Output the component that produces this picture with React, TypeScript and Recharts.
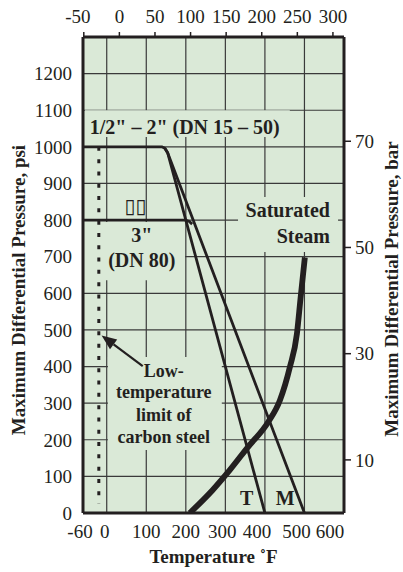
import {
  ComposedChart,
  Line,
  XAxis,
  YAxis,
  CartesianGrid,
  ReferenceLine,
  ReferenceDot,
  ReferenceArea,
  Label,
} from 'recharts';

// temperature in °F, pressure in psi
const fTicks = [-60, 0, 100, 200, 300, 400, 500, 600];
const cTicks = [-50, 0, 50, 100, 150, 200, 250, 300];
const psiTicks = [0, 100, 200, 300, 400, 500, 600, 700, 800, 900, 1000, 1100, 1200];
const barTicks = [10, 30, 50, 70];

const smallValveT = [
  { f: -60, psi: 1000 },
  { f: 139, psi: 1000 },
  { f: 147, psi: 996 },
  { f: 154, psi: 984 },
  { f: 400, psi: 0 },
];
const smallValveM = [
  { f: 147, psi: 996 },
  { f: 154, psi: 984 },
  { f: 500, psi: 0 },
];
const threeInch = [
  { f: -60, psi: 800 },
  { f: 199, psi: 800 },
  { f: 209, psi: 796 },
  { f: 216, psi: 789 },
];
const saturatedSteam = [
  { f: 210, psi: 0 },
  { f: 268, psi: 63 },
  { f: 311, psi: 117 },
  { f: 357, psi: 180 },
  { f: 408, psi: 248 },
  { f: 438, psi: 308 },
  { f: 463, psi: 398 },
  { f: 481, psi: 490 },
  { f: 490, psi: 585 },
  { f: 501, psi: 698 },
];
const lowTempLimit = [
  { f: -20, psi: 1000 },
  { f: -20, psi: 25 },
];
const arrowFrom = { f: 91, psi: 401 };
const arrowTo = { f: -13, psi: 485 };

const PSI_PER_BAR = 14.5038;
const INK = '#231f20';
const BG = '#dae9d7';
const SERIF = '"Liberation Serif", "Times New Roman", serif';

// small nudges so tick text sits like the printed original
const bottomNudge: Record<number, number> = { [-60]: -3, 0: -2, 300: -3, 400: -8, 500: -8, 600: -14 };
const topNudge: Record<number, number> = { [-50]: -6 };

// plain backgrounds behind the printed notes (°F, psi)
const noteBacks = [
  { x1: -55, x2: 463, y1: 1027, y2: 1100 },
  { x1: -60, x2: 198, y1: 636, y2: 795 },
  { x1: 332, x2: 585, y1: 713, y2: 863 },
  { x1: 3, x2: 291, y1: 172, y2: 426 },
];

type Note = {
  f: number;
  psi: number;
  lines: string[];
  dy: number[];
  anchor: 'start' | 'middle' | 'end';
  size: number;
  weight?: number;
  sans?: boolean;
};

const notes: Note[] = [
  { f: -43, psi: 1036, lines: ['1/2" – 2" (DN 15 – 50)'], dy: [0], anchor: 'start', size: 20 },
  { f: 73, psi: 818, lines: ['▯▯'], dy: [0], anchor: 'middle', size: 20, weight: 400, sans: true },
  { f: 88.6, psi: 717, lines: ['3"', '(DN 80)'], dy: [-8, 17], anchor: 'middle', size: 20 },
  { f: 564.6, psi: 772, lines: ['Saturated', 'Steam'], dy: [-13, 13], anchor: 'end', size: 20 },
  {
    f: 144.3, psi: 281, lines: ['Low-', 'temperature', 'limit of', 'carbon steel'],
    dy: [-33, -12, 11, 33], anchor: 'middle', size: 18,
  },
  { f: 354, psi: 22, lines: ['T'], dy: [0], anchor: 'middle', size: 20 },
  { f: 451, psi: 22, lines: ['M'], dy: [0], anchor: 'middle', size: 20 },
];

const noteShape = (n: Note) => (p: any) => (
  <g>
    {n.lines.map((t, i) => (
      <text
        key={i}
        x={p.cx}
        y={p.cy + n.dy[i]}
        textAnchor={n.anchor}
        fontWeight={n.weight ?? 700}
        fontSize={n.size}
        fill={INK}
        style={n.sans ? { fontFamily: '"DejaVu Sans", sans-serif' } : undefined}
      >
        {t}
      </text>
    ))}
  </g>
);

const arrowShape = (p: any) => {
  const { x1, y1, x2, y2 } = p;
  const a = Math.atan2(y2 - y1, x2 - x1);
  const len = 15;
  const w = 6;
  const bx = x2 - len * Math.cos(a);
  const by = y2 - len * Math.sin(a);
  const pts = [
    [x2, y2],
    [bx + w * Math.sin(a), by - w * Math.cos(a)],
    [bx - w * Math.sin(a), by + w * Math.cos(a)],
  ]
    .map((q) => q.join(','))
    .join(' ');
  return (
    <g>
      <line x1={x1} y1={y1} x2={bx} y2={by} stroke={INK} strokeWidth={2.2} />
      <polygon points={pts} fill={INK} />
    </g>
  );
};

const makeTick = (nudge: Record<number, number>, fmt: (v: number) => string, dyText: number) =>
  (p: any) => (
    <text
      x={p.x + (nudge[Number(fmt(p.payload.value))] ?? 0)}
      y={p.y + dyText}
      textAnchor="middle"
      fontSize={19}
      fill={INK}
    >
      {fmt(p.payload.value)}
    </text>
  );

const toC = (v: number) => String(Math.round(((v - 32) * 5) / 9));
const asIs = (v: number) => String(v);

const tickStyle = { fontSize: 19, fill: INK };

function TitleV({ x, y, text }: { x: number; y: number; text: string }) {
  return (
    <text
      x={x}
      y={y}
      transform={`rotate(-90, ${x}, ${y})`}
      textAnchor="middle"
      fontWeight={700}
      fontSize={19}
      fill={INK}
    >
      {text}
    </text>
  );
}

export default function App() {
  return (
    <div style={{ position: 'absolute', left: 0, top: 0, fontFamily: SERIF }}>
      <style>{`svg text { font-family: ${SERIF}; }`}</style>
      <ComposedChart
        width={403}
        height={572}
        margin={{ top: 0, right: 0, bottom: 0, left: 0 }}
      >
        <CartesianGrid
          xAxisId="f"
          yAxisId="psi"
          stroke="#3a3a3a"
          strokeWidth={1.2}
          fill={BG}
          fillOpacity={1}
        />
        <XAxis
          xAxisId="f"
          dataKey="f"
          type="number"
          domain={[-60, 600]}
          allowDataOverflow
          ticks={fTicks}
          interval={0}
          height={59}
          tickLine={false}
          tickSize={0}
          tickMargin={0}
          axisLine={{ stroke: INK, strokeWidth: 3 }}
          tick={makeTick(bottomNudge, asIs, 25)}
        >
          <Label
            content={(p: any) => (
              <text
                x={p.viewBox.x + p.viewBox.width / 2}
                y={563}
                textAnchor="middle"
                fontWeight={700}
                fontSize={19}
                fill={INK}
              >
                Temperature ˚F
              </text>
            )}
          />
        </XAxis>
        <XAxis
          xAxisId="c"
          orientation="top"
          dataKey="f"
          type="number"
          domain={[-60, 600]}
          allowDataOverflow
          ticks={cTicks.map((c) => (c * 9) / 5 + 32)}
          interval={0}
          height={37}
          tickSize={5}
          tickMargin={0}
          tickLine={{ stroke: INK, strokeWidth: 1.5 }}
          axisLine={{ stroke: INK, strokeWidth: 3 }}
          tick={makeTick(topNudge, toC, -9)}
        />
        <YAxis
          yAxisId="psi"
          type="number"
          domain={[0, 1300]}
          allowDataOverflow
          ticks={psiTicks}
          interval={0}
          width={83}
          tickLine={false}
          tickSize={0}
          tickMargin={11}
          axisLine={{ stroke: INK, strokeWidth: 3 }}
          tick={tickStyle}
        >
          <Label content={() => <TitleV x={25} y={290} text="Maximum Differential Pressure, psi" />} />
        </YAxis>
        <YAxis
          yAxisId="bar"
          orientation="right"
          type="number"
          domain={[0, 1300]}
          allowDataOverflow
          ticks={barTicks.map((b) => b * PSI_PER_BAR)}
          tickFormatter={(v: number) => String(Math.round(v / PSI_PER_BAR))}
          interval={0}
          width={59}
          tickSize={7}
          tickMargin={4}
          tickLine={{ stroke: INK, strokeWidth: 1.5 }}
          axisLine={{ stroke: INK, strokeWidth: 3 }}
          tick={tickStyle}
        >
          <Label content={() => <TitleV x={398} y={289} text="Maximum Differential Pressure, bar" />} />
        </YAxis>

        {noteBacks.map((b, i) => (
          <ReferenceArea
            key={'b' + i}
            xAxisId="f"
            yAxisId="psi"
            x1={b.x1}
            x2={b.x2}
            y1={b.y1}
            y2={b.y2}
            fill={BG}
            fillOpacity={1}
            stroke="none"
          />
        ))}

        {notes.map((n, i) => (
          <ReferenceDot
            key={i}
            xAxisId="f"
            yAxisId="psi"
            x={n.f}
            y={n.psi}
            r={0}
            shape={noteShape(n)}
          />
        ))}

        <ReferenceLine
          xAxisId="f"
          yAxisId="psi"
          segment={[
            { x: arrowFrom.f, y: arrowFrom.psi },
            { x: arrowTo.f, y: arrowTo.psi },
          ]}
          shape={arrowShape}
        />

        <Line
          xAxisId="f"
          yAxisId="psi"
          data={lowTempLimit}
          dataKey="psi"
          type="linear"
          stroke={INK}
          strokeWidth={3}
          strokeDasharray="4 8.3"
          dot={false}
          isAnimationActive={false}
        />
        <Line
          xAxisId="f"
          yAxisId="psi"
          data={smallValveT}
          dataKey="psi"
          type="linear"
          stroke={INK}
          strokeWidth={2.8}
          strokeLinejoin="round"
          dot={false}
          isAnimationActive={false}
        />
        <Line
          xAxisId="f"
          yAxisId="psi"
          data={smallValveM}
          dataKey="psi"
          type="linear"
          stroke={INK}
          strokeWidth={2.8}
          strokeLinejoin="round"
          dot={false}
          isAnimationActive={false}
        />
        <Line
          xAxisId="f"
          yAxisId="psi"
          data={threeInch}
          dataKey="psi"
          type="linear"
          stroke={INK}
          strokeWidth={2.8}
          strokeLinejoin="round"
          dot={false}
          isAnimationActive={false}
        />
        <Line
          xAxisId="f"
          yAxisId="psi"
          data={saturatedSteam}
          dataKey="psi"
          type="monotone"
          stroke={INK}
          strokeWidth={5.8}
          dot={false}
          isAnimationActive={false}
        />
      </ComposedChart>
    </div>
  );
}
